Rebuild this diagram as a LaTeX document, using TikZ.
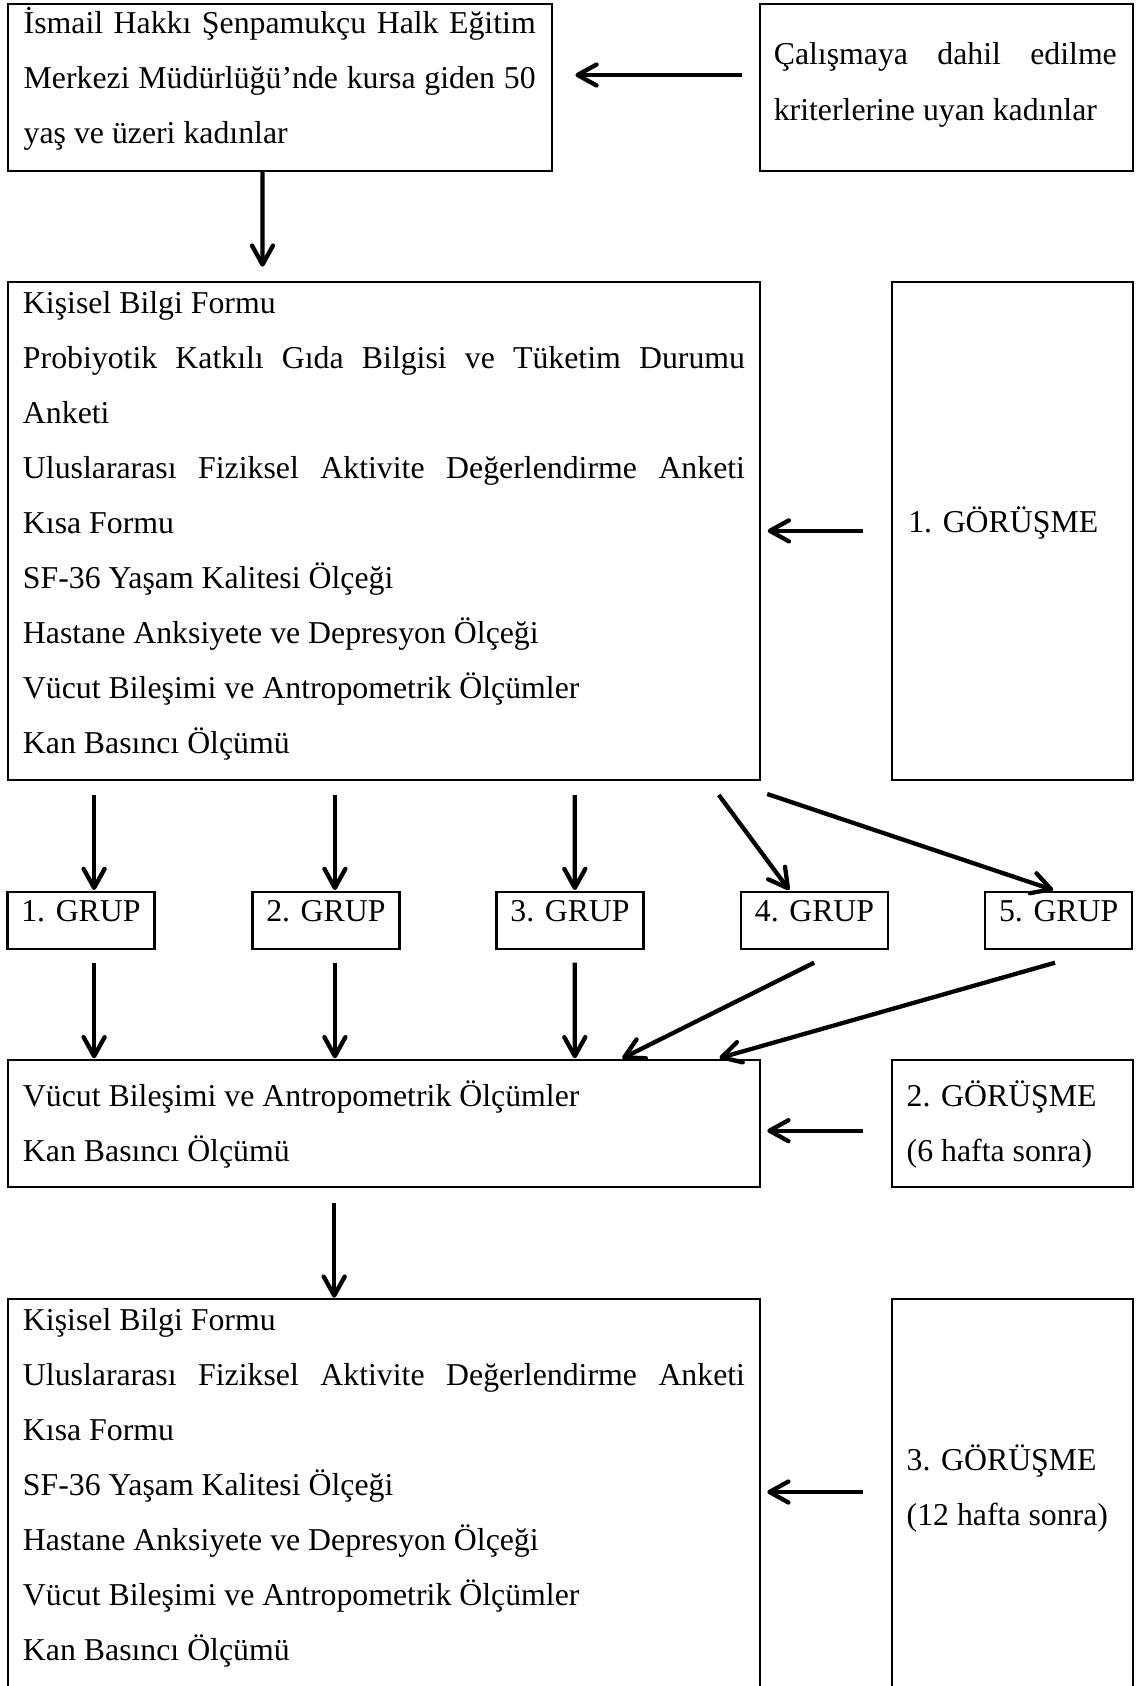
\documentclass[tikz,border=0pt]{standalone}
\usepackage{fontspec}
\setmainfont{Liberation Serif}
\usetikzlibrary{arrows.meta,calc}
\begin{document}
\begin{tikzpicture}[x=1pt,y=-1pt,
  box/.style={draw, line width=2.2pt, rectangle, inner sep=0pt, outer sep=0pt, anchor=north west},
  grp/.style={draw, line width=2.2pt, rectangle, inner sep=0pt, outer sep=0pt,
    minimum width=147pt, minimum height=57.3pt, text height=21pt, text depth=18pt,
    font=\fontsize{31.8}{55}\selectfont},
  txt/.style={inner sep=0pt, outer sep=0pt, anchor=base west, align=justify,
    font=\fontsize{31.8}{55}\selectfont},
  arr/.style={line width=4.3pt, -{Straight Barb[length=19pt,width=21pt,round]}},
]
\useasboundingbox (0,0) rectangle (1135,1686);
\clip (0,0) rectangle (1135,1686);

% boxes
\node[box, minimum width=544.1pt, minimum height=167pt] (b1) at (7.7,4) {};
\node[box, minimum width=372.8pt, minimum height=167pt] (b2) at (760,4) {};
\node[box, minimum width=752.3pt, minimum height=498.3pt] (b3) at (7.7,281.7) {};
\node[box, minimum width=241pt, minimum height=498.3pt] (b4) at (891.7,281.7) {};
\node[grp] (g1) at (80.95,920.35) {1. GRUP};
\node[grp] (g2) at (325.9,920.35) {2. GRUP};
\node[grp] (g3) at (570,920.35) {3. GRUP};
\node[grp] (g4) at (814.5,920.35) {4. GRUP};
\node[grp] (g5) at (1058.7,920.35) {5. GRUP};
\node[box, minimum width=752.3pt, minimum height=127pt] (b5) at (7.7,1060) {};
\node[box, minimum width=241pt, minimum height=127pt] (b6) at (891.7,1060) {};
\node[box, minimum width=752.3pt, minimum height=430pt] (b7) at (7.7,1299) {};
\node[box, minimum width=241pt, minimum height=430pt] (b8) at (891.7,1299) {};

% texts
\node[txt, text width=512pt] (t1) at (23.7,33.3)
  {İsmail Hakkı Şenpamukçu Halk Eğitim\linebreak Merkezi Müdürlüğü’nde kursa giden 50\linebreak yaş ve üzeri kadınlar};
\node[txt, text width=343pt] (t2) at (773.8,65)
  {Çalışmaya dahil edilme\linebreak kriterlerine uyan kadınlar};
\node[txt, text width=722pt] (t3) at (23,313)
  {Kişisel Bilgi Formu\\
   Probiyotik Katkılı Gıda Bilgisi ve Tüketim Durumu\linebreak Anketi\\
   Uluslararası Fiziksel Aktivite Değerlendirme Anketi\linebreak Kısa Formu\\
   SF-36 Yaşam Kalitesi Ölçeği\\
   Hastane Anksiyete ve Depresyon Ölçeği\\
   Vücut Bileşimi ve Antropometrik Ölçümler\\
   Kan Basıncı Ölçümü};
\node[txt, text width=220pt] (t4) at (908.3,532.7) {1. GÖRÜŞME};
\node[txt, text width=722pt] (t5) at (23,1106)
  {Vücut Bileşimi ve Antropometrik Ölçümler\\
   Kan Basıncı Ölçümü};
\node[txt, text width=220pt] (t6) at (906.7,1106) {2. GÖRÜŞME\\(6 hafta sonra)};
\node[txt, text width=722pt] (t7) at (23,1330)
  {Kişisel Bilgi Formu\\
   Uluslararası Fiziksel Aktivite Değerlendirme Anketi\linebreak Kısa Formu\\
   SF-36 Yaşam Kalitesi Ölçeği\\
   Hastane Anksiyete ve Depresyon Ölçeği\\
   Vücut Bileşimi ve Antropometrik Ölçümler\\
   Kan Basıncı Ölçümü};
\node[txt, text width=220pt] (t8) at (906.7,1470.6) {3. GÖRÜŞME\\(12 hafta sonra)};

% arrows
\draw[arr] ($(b2.west)+(-18,-12.5)$) -- ($(b1.east)+(23.6,-12.5)$);
\draw[arr] ($(b1.south)+(-17.25,0)$) -- ($(b3.north)+(-121.35,-15)$);
\draw[arr] ($(b4.west)+(-29,0)$) -- ($(b3.east)+(7.7,0)$);
\draw[arr] ($(b3.south)+(-289.75,15)$) -- ($(g1.north)+(13.15,-1.7)$);
\draw[arr] ($(b3.south)+(-48.95,15)$) -- ($(g2.north)+(9,-1.7)$);
\draw[arr] ($(b3.south)+(190.95,15)$) -- ($(g3.north)+(4.8,-1.7)$);
\draw[arr] ($(b3.south)+(334.95,15)$) -- ($(g4.north)+(-25.3,-1.7)$);
\draw[arr] ($(b3.south)+(383.35,14)$) -- ($(g5.north)+(-5.5,-1.7)$);
\draw[arr] ($(g1.south)+(13.15,13.7)$) -- ($(b5.north)+(-289.75,-1.7)$);
\draw[arr] ($(g2.south)+(9,13.7)$) -- ($(b5.north)+(-48.95,-1.7)$);
\draw[arr] ($(g3.south)+(4.8,13.7)$) -- ($(b5.north)+(190.95,-1.7)$);
\draw[arr] ($(g4.south)+(-0.4,13.7)$) -- ($(b5.north)+(238.45,-1.7)$);
\draw[arr] ($(g5.south)+(-3.7,13.7)$) -- ($(b5.north)+(335.65,-2)$);
\draw[arr] ($(b6.west)+(-29,7.2)$) -- ($(b5.east)+(7.3,7.2)$);
\draw[arr] ($(b5.south)+(-49.65,16.3)$) -- ($(b7.north)+(-49.65,-1.3)$);
\draw[arr] ($(b8.north west)+(-29,193)$) -- ($(b7.north east)+(7.3,193)$);
\end{tikzpicture}
\end{document}
